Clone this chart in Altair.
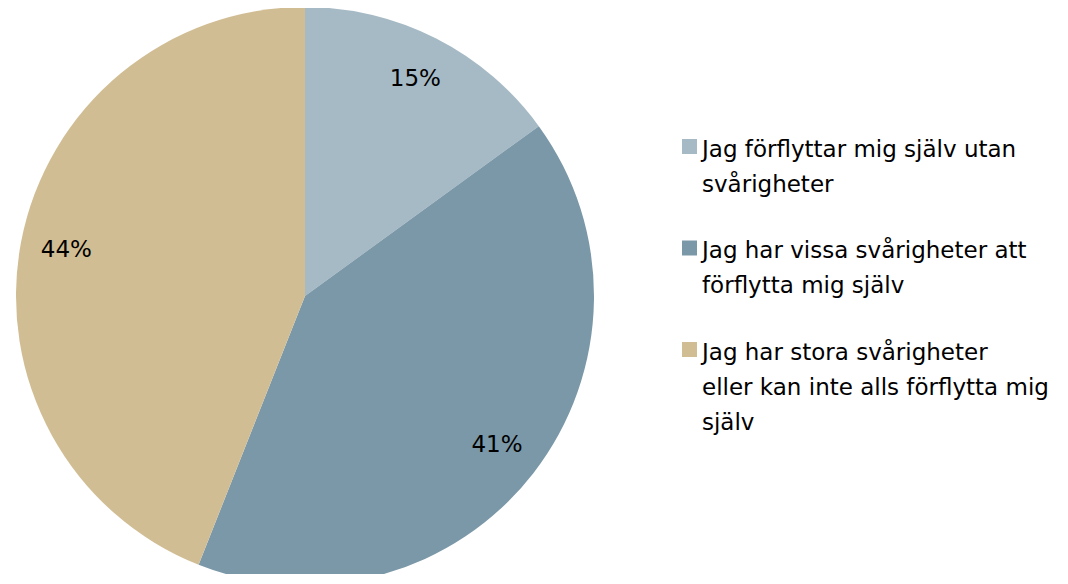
import altair as alt
import pandas as pd

categories = [
    "Jag förflyttar mig själv utan svårigheter",
    "Jag har vissa svårigheter att förflytta mig själv",
    "Jag har stora svårigheter eller kan inte alls förflytta mig själv",
]
label_lines = [
    ["Jag förflyttar mig själv utan", "svårigheter"],
    ["Jag har vissa svårigheter att", "förflytta mig själv"],
    ["Jag har stora svårigheter", "eller kan inte alls förflytta mig", "själv"],
]
values = [15, 41, 44]
colors = ["#A6BAC5", "#7B98A8", "#D1BD93"]

df = pd.DataFrame({
    "cat": categories,
    "value": values,
    "order": list(range(len(categories))),
    "pct": [f"{v}%" for v in values],
    "lines": label_lines,
})

FONT = "DejaVu Sans"

color = alt.Color(
    "cat:N",
    scale=alt.Scale(domain=categories, range=colors),
    sort=categories,
    legend=None,
)

base = alt.Chart(df).encode(
    theta=alt.Theta("value:Q", stack=True),
    order=alt.Order("order:Q"),
)

pie = base.mark_arc(outerRadius=289, stroke=None).encode(
    x=alt.value(297),
    y=alt.value(288),
    color=color,
)

text = base.mark_text(radius=243, font=FONT, fontSize=23, color="#000000").encode(
    x=alt.value(297),
    y=alt.value(288),
    text="pct:N",
)

leg_y = alt.Y("order:O", axis=None, scale=alt.Scale(type="point", range=[138.5, 341.5], padding=0))

leg_sq = alt.Chart(df).mark_square(size=225, opacity=1, strokeWidth=0).encode(
    x=alt.value(681.5),
    y=leg_y,
    color=color,
)

leg_txt = alt.Chart(df).mark_text(
    font=FONT, fontSize=23, color="#000000", align="left", baseline="top",
    lineHeight=35, dy=-8,
).encode(
    x=alt.value(694),
    y=leg_y,
    text="lines",
)

chart = (pie + text + leg_sq + leg_txt).properties(
    width=1052, height=566,
    autosize=alt.AutoSizeParams(type="none"),
    padding=0,
).configure_view(stroke=None)

chart.save("out.html", embed_options={"renderer": "svg", "actions": False})
